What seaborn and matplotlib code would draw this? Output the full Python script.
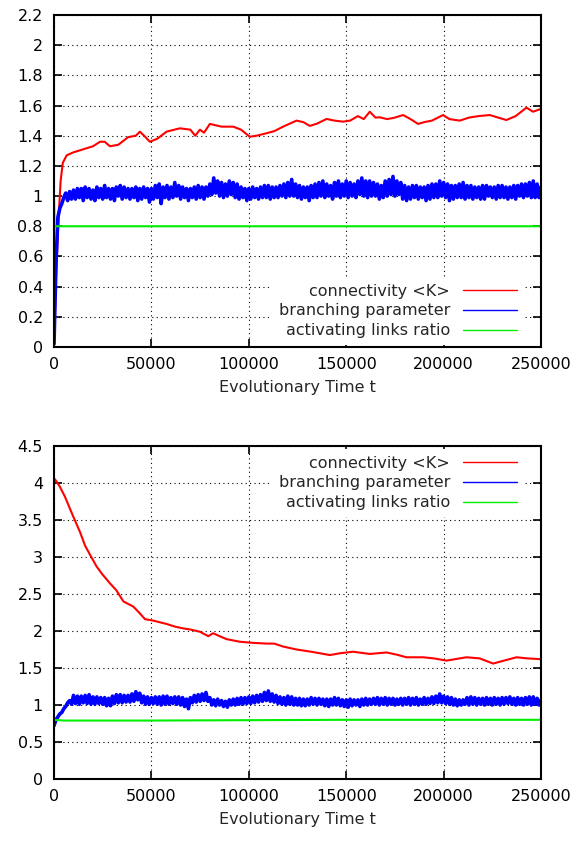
import numpy as np
import pandas as pd
import matplotlib
matplotlib.use("Agg")
import matplotlib.pyplot as plt
import seaborn as sns
from matplotlib.ticker import FuncFormatter

sns.set_theme(style="ticks")
plt.rcParams["font.family"] = ["DejaVu Sans"]
plt.rcParams["font.size"] = 11.5

# ---- data ----
STEP = 1000  # sampling of the noisy branching-parameter band

# top panel
top_red_t = [0, 1000, 2200, 3400, 4500, 6500, 10000, 15000, 20000, 23600,
             26000, 28700, 33000, 38000, 42000, 44100, 47000, 49200, 53000, 57800,
             64600, 70000, 72500, 74900, 77000, 80000, 86000, 92000, 96000, 100500,
             104000, 109000, 113000, 117600, 121000, 124500, 128000, 131300, 135000, 139900,
             144000, 148400, 152000, 156000, 159000, 162100, 165000, 167200, 171000, 175000,
             179200, 183000, 186900, 190000, 194000, 199700, 203000, 208300, 213000, 218000,
             223700, 228000, 232200, 237000, 242500, 245900, 249300, 250000]
top_red = [0.02, 0.45, 0.82, 1.10, 1.22, 1.27, 1.29, 1.31, 1.33, 1.36,
           1.36, 1.33, 1.34, 1.39, 1.40, 1.427, 1.39, 1.36, 1.38, 1.427,
           1.449, 1.44, 1.40, 1.44, 1.42, 1.478, 1.46, 1.46, 1.44, 1.393,
           1.40, 1.416, 1.43, 1.46, 1.48, 1.50, 1.49, 1.465, 1.48, 1.511,
           1.50, 1.493, 1.50, 1.53, 1.51, 1.559, 1.52, 1.522, 1.51, 1.52,
           1.537, 1.51, 1.478, 1.49, 1.50, 1.537, 1.51, 1.50, 1.52, 1.53,
           1.537, 1.52, 1.504, 1.53, 1.586, 1.559, 1.575, 1.57]

top_blue = [0.02, 0.55, 0.86, 0.92, 0.95, 0.99, 1.02, 0.97, 1.03, 0.98,
            1.04, 0.98, 1.05, 0.99, 1.05, 0.97, 1.06, 0.99, 1.05, 0.98,
            1.04, 0.97, 1.06, 0.99, 1.05, 0.98, 1.07, 0.99, 1.05, 0.98,
            1.05, 0.97, 1.06, 1.00, 1.07, 0.98, 1.06, 0.99, 1.05, 0.98,
            1.05, 0.99, 1.06, 0.97, 1.05, 0.98, 1.06, 0.99, 1.05, 0.96,
            1.05, 0.98, 1.07, 0.99, 1.08, 0.95, 1.06, 0.99, 1.07, 0.98,
            1.06, 0.99, 1.09, 1.00, 1.07, 0.98, 1.06, 0.99, 1.05, 0.97,
            1.05, 0.99, 1.06, 0.98, 1.07, 0.99, 1.06, 0.98, 1.06, 1.00,
            1.08, 1.01, 1.12, 1.02, 1.10, 1.00, 1.09, 0.99, 1.08, 1.00,
            1.10, 1.01, 1.09, 0.99, 1.08, 0.98, 1.06, 0.99, 1.05, 0.97,
            1.05, 0.98, 1.06, 0.99, 1.05, 0.98, 1.06, 0.99, 1.07, 0.99,
            1.07, 0.98, 1.06, 0.99, 1.06, 0.99, 1.07, 1.00, 1.08, 0.99,
            1.09, 1.00, 1.11, 1.00, 1.08, 0.99, 1.07, 0.98, 1.06, 0.99,
            1.06, 0.97, 1.07, 0.99, 1.08, 0.99, 1.09, 1.00, 1.10, 0.99,
            1.08, 1.00, 1.07, 0.98, 1.09, 1.00, 1.10, 0.99, 1.08, 1.00,
            1.10, 0.99, 1.09, 1.00, 1.08, 0.99, 1.10, 1.01, 1.12, 1.00,
            1.10, 0.99, 1.10, 1.00, 1.09, 1.00, 1.08, 0.98, 1.07, 0.99,
            1.10, 1.00, 1.11, 1.01, 1.13, 1.00, 1.10, 1.01, 1.09, 0.98,
            1.07, 0.97, 1.06, 0.98, 1.07, 0.99, 1.07, 0.98, 1.06, 0.99,
            1.06, 0.97, 1.07, 0.98, 1.08, 0.99, 1.08, 0.99, 1.10, 1.00,
            1.09, 0.99, 1.08, 0.97, 1.07, 0.98, 1.07, 0.99, 1.08, 0.99,
            1.09, 0.98, 1.07, 0.99, 1.07, 0.98, 1.06, 0.99, 1.06, 0.98,
            1.07, 0.98, 1.07, 1.00, 1.06, 0.99, 1.06, 0.98, 1.07, 0.99,
            1.07, 0.99, 1.06, 0.98, 1.06, 0.99, 1.07, 0.98, 1.07, 1.00,
            1.08, 0.99, 1.08, 1.00, 1.09, 0.99, 1.10, 0.99, 1.08, 0.99,
            1.06]

top_green_t = [0, 300, 250000]
top_green = [1.0, 0.8, 0.8]

# bottom panel
bot_red_t = [0, 500, 3000, 5600, 9900, 13300, 16000, 18500, 21900, 25000,
             28700, 32000, 35600, 40700, 44000, 46700, 51000, 54000, 57800, 62000,
             66300, 70000, 74900, 79200, 81700, 85000, 88600, 95400, 102000, 109100,
             113000, 117600, 124500, 132000, 141600, 147000, 153500, 162100, 170700, 176000,
             180900, 189500, 195000, 201500, 206000, 211700, 218500, 225400, 231000, 237400,
             243000, 249300, 250000]
bot_red = [4.02, 4.05, 3.95, 3.815, 3.545, 3.34, 3.15, 3.03, 2.87, 2.76,
           2.645, 2.55, 2.40, 2.33, 2.24, 2.16, 2.14, 2.12, 2.095, 2.06,
           2.035, 2.02, 1.99, 1.93, 1.97, 1.93, 1.89, 1.855, 1.84, 1.83,
           1.83, 1.79, 1.75, 1.72, 1.675, 1.70, 1.72, 1.69, 1.71, 1.68,
           1.645, 1.645, 1.63, 1.60, 1.62, 1.645, 1.63, 1.56, 1.60, 1.645,
           1.63, 1.62, 1.62]

bot_blue = [0.72, 0.80, 0.84, 0.88, 0.90, 0.95, 0.98, 1.03, 1.06, 1.01,
            1.13, 1.02, 1.12, 1.01, 1.12, 1.03, 1.13, 1.02, 1.14, 1.01,
            1.11, 1.01, 1.11, 1.02, 1.10, 1.01, 1.10, 0.99, 1.09, 0.99,
            1.12, 1.02, 1.14, 1.03, 1.14, 1.03, 1.13, 1.04, 1.13, 1.04,
            1.15, 1.05, 1.18, 1.07, 1.16, 1.03, 1.12, 1.01, 1.11, 1.01,
            1.10, 1.02, 1.11, 1.01, 1.11, 1.00, 1.12, 1.01, 1.12, 1.01,
            1.10, 1.02, 1.11, 1.01, 1.11, 1.00, 1.10, 0.98, 1.08, 0.95,
            1.10, 1.03, 1.13, 1.04, 1.14, 1.05, 1.15, 1.06, 1.17, 1.05,
            1.10, 1.00, 1.07, 0.99, 1.08, 1.00, 1.06, 0.98, 1.05, 0.97,
            1.07, 1.00, 1.08, 1.00, 1.09, 1.01, 1.10, 1.01, 1.10, 1.02,
            1.11, 1.02, 1.12, 1.03, 1.13, 1.04, 1.14, 1.05, 1.17, 1.06,
            1.19, 1.05, 1.15, 1.04, 1.13, 1.02, 1.11, 1.01, 1.10, 1.00,
            1.12, 1.01, 1.11, 1.00, 1.09, 1.00, 1.09, 0.99, 1.08, 0.99,
            1.08, 1.00, 1.10, 1.01, 1.09, 1.00, 1.09, 1.01, 1.08, 0.99,
            1.08, 0.98, 1.08, 1.00, 1.10, 1.00, 1.09, 0.99, 1.07, 0.98,
            1.07, 0.97, 1.08, 0.99, 1.07, 1.00, 1.07, 0.98, 1.08, 1.00,
            1.09, 1.00, 1.08, 1.01, 1.09, 1.01, 1.10, 1.00, 1.09, 1.01,
            1.10, 1.00, 1.09, 1.01, 1.09, 1.00, 1.08, 1.01, 1.09, 1.00,
            1.09, 1.01, 1.10, 1.00, 1.09, 1.01, 1.10, 1.00, 1.08, 1.01,
            1.10, 1.01, 1.09, 1.02, 1.11, 1.02, 1.12, 1.03, 1.15, 1.03,
            1.12, 1.02, 1.11, 1.01, 1.10, 1.00, 1.08, 0.99, 1.07, 1.00,
            1.07, 1.01, 1.10, 1.00, 1.11, 1.01, 1.10, 1.00, 1.09, 1.01,
            1.09, 1.00, 1.10, 1.01, 1.09, 1.00, 1.10, 1.01, 1.09, 1.00,
            1.10, 1.01, 1.10, 1.02, 1.11, 1.01, 1.09, 1.00, 1.10, 1.01,
            1.09, 1.00, 1.10, 1.01, 1.11, 1.00, 1.11, 1.01, 1.09, 1.00,
            1.07]

bot_green_t = [0, 5000, 50000, 150000, 250000]
bot_green = [0.80, 0.79, 0.79, 0.80, 0.80]

LABELS = ["connectivity <K>", "branching parameter", "activating links ratio"]
COLORS = ["#ff0000", "#0000ff", "#00ee00"]


def style_axes(ax, ymax, ystep):
    ax.set_xlim(0, 250000)
    ax.set_ylim(0, ymax)
    ax.set_xticks(np.arange(0, 250001, 50000))
    ax.set_yticks(np.arange(0, ymax + 1e-9, ystep))
    ax.xaxis.set_major_formatter(FuncFormatter(lambda v, p: f"{v:.0f}"))
    ax.yaxis.set_major_formatter(FuncFormatter(lambda v, p: f"{v:g}"))
    ax.tick_params(direction="in", length=6, width=1.2, top=True, right=True,
                   labelsize=11.5, colors="black")
    ax.tick_params(axis="x", pad=7)
    ax.tick_params(axis="y", pad=8)
    ax.grid(True, color="black", linestyle=(0, (1, 3)), linewidth=0.8)
    for s in ax.spines.values():
        s.set_visible(True)
        s.set_linewidth(1.5)
        s.set_color("black")
    ax.set_xlabel("Evolutionary Time t", fontsize=11.5, labelpad=6)
    ax.set_ylabel("")


def draw_panel(ax, red_t, red, blue, green_t, green):
    blue_t = np.arange(len(blue)) * STEP
    sns.lineplot(x=red_t, y=red, ax=ax, color=COLORS[0], linewidth=1.5,
                 estimator=None, sort=False, label=LABELS[0])
    sns.lineplot(x=blue_t, y=blue, ax=ax, color=COLORS[1], linewidth=2.6,
                 estimator=None, sort=False, label=LABELS[1])
    sns.lineplot(x=green_t, y=green, ax=ax, color=COLORS[2], linewidth=1.5,
                 estimator=None, sort=False, label=LABELS[2])


fig = plt.figure(figsize=(5.82, 8.41), dpi=100)
ax1 = fig.add_axes([0.0928, 0.5874, 0.8368, 0.3948])
ax2 = fig.add_axes([0.0928, 0.0737, 0.8368, 0.3960])

draw_panel(ax1, top_red_t, top_red, top_blue, top_green_t, top_green)
draw_panel(ax2, bot_red_t, bot_red, bot_blue, bot_green_t, bot_green)
style_axes(ax1, 2.2, 0.2)
style_axes(ax2, 4.5, 0.5)

for ax, loc, anchor in [(ax1, "lower right", (0.964, 0.007)),
                        (ax2, "upper right", (0.964, 0.99))]:
    leg = ax.legend(loc=loc, bbox_to_anchor=anchor, markerfirst=False,
                    handlelength=3.4, handletextpad=0.8, labelspacing=0.3,
                    borderpad=0.4, borderaxespad=0, frameon=True,
                    fancybox=False, framealpha=1, fontsize=11.5)
    leg.get_frame().set_facecolor("white")
    leg.get_frame().set_edgecolor("none")
    for line in leg.get_lines():
        line.set_linewidth(1.0)

fig.savefig("out.png", dpi=100)
